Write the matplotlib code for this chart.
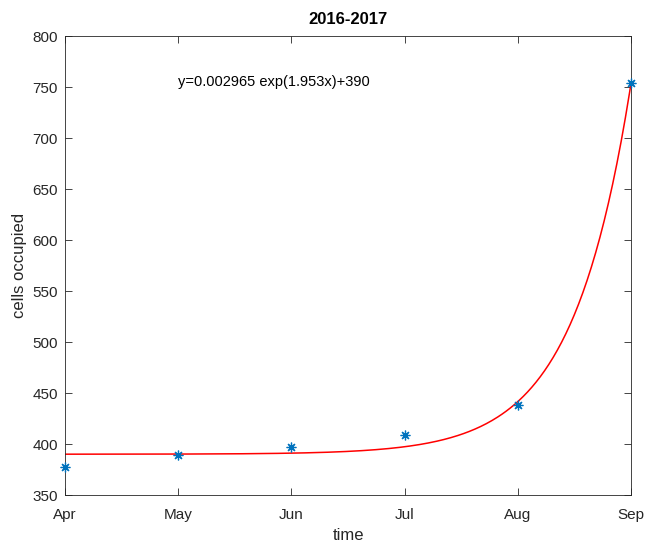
import numpy as np
import matplotlib
matplotlib.use("Agg")
import matplotlib.pyplot as plt

plt.rcParams["font.family"] = ["Liberation Sans", "DejaVu Sans"]

# observed data (month index 1..6)
months = ["Apr", "May", "Jun", "Jul", "Aug", "Sep"]
month_idx = [1, 2, 3, 4, 5, 6]
cells = [377, 389, 397, 409, 438, 754]

# fitted model y = a*exp(b*x) + c, coefficients as printed on the chart
fit_a = 0.002965
fit_b = 1.953
fit_c = 390
fit_label = "y=0.002965 exp(1.953x)+390"

AX_COL = "#262626"
fig = plt.figure(figsize=(6.47, 5.48), dpi=100)
ax = fig.add_axes([0.1005, 0.0967, 0.8749, 0.8376])

xs = np.linspace(month_idx[0], month_idx[-1], 400)
ax.plot(xs, fit_a * np.exp(fit_b * xs) + fit_c, color="red", lw=1.1)
ax.plot(month_idx, cells, ls="none", marker=(8, 2, 0), color="#0072BD",
        ms=7, mew=0.9, clip_on=False, zorder=3)

ax.text(2, 755, fit_label, ha="left", va="center", fontsize=10.5, color="black")

ax.set_xlim(1, 6)
ax.set_ylim(350, 800)
ax.set_xticks(month_idx)
ax.set_xticklabels(months)
ax.set_yticks(np.arange(350, 801, 50))
ax.tick_params(direction="in", top=True, right=True, length=5, width=0.6,
               colors=AX_COL, labelsize=11, labelcolor=AX_COL)
ax.tick_params(axis="x", pad=9)
ax.tick_params(axis="y", pad=5)
for s in ax.spines.values():
    s.set_color(AX_COL)
    s.set_linewidth(0.6)
ax.set_xlabel("time", fontsize=12, color=AX_COL, labelpad=5)
ax.set_ylabel("cells occupied", fontsize=12, color=AX_COL, labelpad=4)
ax.set_title("2016-2017", fontsize=12, fontweight="bold", color="black", pad=9)

fig.savefig("out.png", dpi=100)
